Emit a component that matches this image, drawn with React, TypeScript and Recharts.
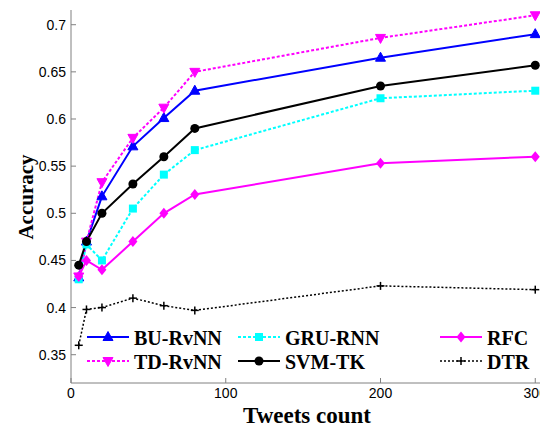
import { LineChart, Line, XAxis, YAxis } from 'recharts'

const COUNTS = [5, 10, 20, 40, 60, 80, 200, 300]
const BU_RVNN = [0.432, 0.47, 0.518, 0.571, 0.601, 0.63, 0.665, 0.69]
const TD_RVNN = [0.433, 0.47, 0.533, 0.58, 0.612, 0.65, 0.686, 0.71]
const GRU_RNN = [0.43, 0.467, 0.45, 0.505, 0.541, 0.567, 0.622, 0.63]
const SVM_TK = [0.445, 0.47, 0.5, 0.531, 0.56, 0.59, 0.635, 0.657]
const RFC = [0.433, 0.45, 0.44, 0.47, 0.5, 0.52, 0.553, 0.56]
const DTR = [0.36, 0.398, 0.4, 0.41, 0.402, 0.397, 0.423, 0.419]

const X_TICKS = [0, 100, 200, 300]
const Y_TICKS = [0.35, 0.4, 0.45, 0.5, 0.55, 0.6, 0.65, 0.7]

type Shape = 'up' | 'down' | 'square' | 'circle' | 'diamond' | 'plus'

const SERIES = [
  { key: 'bu', name: 'BU-RvNN', values: BU_RVNN, color: '#0000ff', dash: undefined, width: 2, shape: 'up' as Shape },
  { key: 'td', name: 'TD-RvNN', values: TD_RVNN, color: '#ff00ff', dash: '3 2', width: 2, shape: 'down' as Shape },
  { key: 'gru', name: 'GRU-RNN', values: GRU_RNN, color: '#00ffff', dash: '3 2', width: 2, shape: 'square' as Shape },
  { key: 'svm', name: 'SVM-TK', values: SVM_TK, color: '#000000', dash: undefined, width: 2, shape: 'circle' as Shape },
  { key: 'rfc', name: 'RFC', values: RFC, color: '#ff00ff', dash: undefined, width: 2, shape: 'diamond' as Shape },
  { key: 'dtr', name: 'DTR', values: DTR, color: '#000000', dash: '2 2', width: 1.5, shape: 'plus' as Shape },
]

const data = COUNTS.map((x, i) => {
  const row: Record<string, number> = { x }
  SERIES.forEach(s => { row[s.key] = s.values[i] })
  return row
})

const AXIS = '#808080'
const TICK_FONT = { fontSize: 14, fill: '#000', fontFamily: '"Liberation Sans", Arial, sans-serif' }
const SERIF = '"Liberation Serif", "Times New Roman", serif'

function Marker({ shape, cx, cy, color }: { shape: Shape; cx: number; cy: number; color: string }) {
  switch (shape) {
    case 'up':
      return <polygon points={`${cx},${cy - 5.5} ${cx + 5},${cy + 3.5} ${cx - 5},${cy + 3.5}`} fill={color} stroke={color} />
    case 'down':
      return <polygon points={`${cx},${cy + 5.5} ${cx + 5},${cy - 3.5} ${cx - 5},${cy - 3.5}`} fill={color} stroke={color} />
    case 'square':
      return <rect x={cx - 4} y={cy - 4} width={8} height={8} fill={color} />
    case 'circle':
      return <circle cx={cx} cy={cy} r={4.5} fill={color} />
    case 'diamond':
      return <polygon points={`${cx},${cy - 5.5} ${cx + 4.5},${cy} ${cx},${cy + 5.5} ${cx - 4.5},${cy}`} fill={color} />
    default:
      return (
        <g stroke={color} strokeWidth={1.5}>
          <line x1={cx - 4} y1={cy} x2={cx + 4} y2={cy} />
          <line x1={cx} y1={cy - 4} x2={cx} y2={cy + 4} />
        </g>
      )
  }
}

// legend laid out column-major like the original (3 columns x 2 rows)
const LEGEND_COLS = [87, 238, 440]
const LEGEND_ROWS = [337, 361]

function ChartLegend() {
  return (
    <svg width={540} height={427} style={{ position: 'absolute', left: 0, top: 0, pointerEvents: 'none' }}>
      {SERIES.map((s, i) => {
        const x = LEGEND_COLS[Math.floor(i / 2)]
        const y = LEGEND_ROWS[i % 2]
        return (
          <g key={s.key}>
            <line x1={x} y1={y} x2={x + 42} y2={y} stroke={s.color} strokeWidth={s.width} strokeDasharray={s.dash} />
            <Marker shape={s.shape} cx={x + 21} cy={y} color={s.color} />
            <text x={x + 47} y={y + 8} fontFamily={SERIF} fontWeight="bold" fontSize={20} fill="#000">{s.name}</text>
          </g>
        )
      })}
    </svg>
  )
}

export default function App() {
  return (
    <div style={{ position: 'absolute', left: 0, top: 0, width: 540, height: 427, overflow: 'hidden', background: '#fff' }}>
      <LineChart width={550} height={427} data={data} margin={{ top: 10, right: 7, left: 0, bottom: 0 }}>
        <XAxis
          dataKey="x"
          type="number"
          domain={[0, 305]}
          ticks={X_TICKS}
          interval={0}
          height={44}
          stroke={AXIS}
          tickSize={-5}
          tickMargin={10}
          tick={TICK_FONT}
          label={() => (
            <text x={307} y={423} textAnchor="middle" fontFamily={SERIF} fontWeight="bold" fontSize={23} fill="#000">Tweets count</text>
          )}
        />
        <XAxis xAxisId="top" dataKey="x" type="number" orientation="top" domain={[0, 305]} ticks={X_TICKS} interval={0} height={0} stroke={AXIS} tickSize={-5} tick={false} />
        <YAxis
          type="number"
          domain={[0.32, 0.7156]}
          ticks={Y_TICKS}
          interval={0}
          width={71}
          stroke={AXIS}
          tickSize={-5}
          tickMargin={10}
          tick={TICK_FONT}
          label={() => (
            <text x={33} y={197} transform="rotate(-90 33 197)" textAnchor="middle" fontFamily={SERIF} fontWeight="bold" fontSize={21} fill="#000">Accuracy</text>
          )}
        />
        <YAxis yAxisId="right" orientation="right" type="number" domain={[0.32, 0.7156]} ticks={Y_TICKS} interval={0} width={0} stroke={AXIS} tickSize={-5} tick={false} />
        {SERIES.map(s => (
          <Line
            key={s.key}
            type="linear"
            dataKey={s.key}
            stroke={s.color}
            strokeWidth={s.width}
            strokeDasharray={s.dash}
            isAnimationActive={false}
            dot={(p: any) => <Marker key={`${s.key}-${p.index}`} shape={s.shape} cx={p.cx} cy={p.cy} color={s.color} />}
          />
        ))}
      </LineChart>
      <ChartLegend />
    </div>
  )
}
